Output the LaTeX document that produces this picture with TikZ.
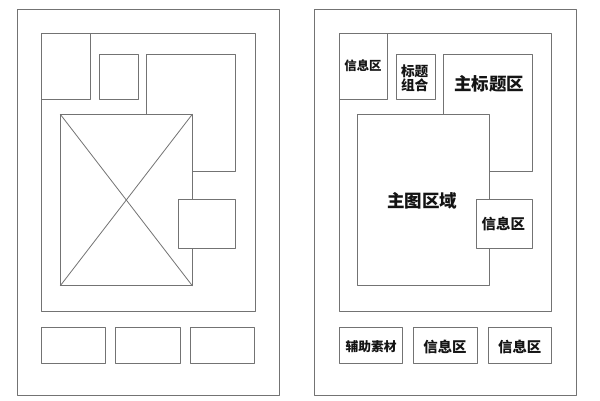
\documentclass[tikz,border=0pt]{standalone}
\usepackage{fontspec}
\newfontfamily\cjk{Noto Sans CJK SC}
\usepackage{tikz}
\definecolor{wwwwww}{rgb}{0.45,0.45,0.45}
\definecolor{qqqqqq}{rgb}{0.08,0.08,0.08}
\begin{document}
\begin{tikzpicture}[line cap=round,line join=round,x=1.0pt,y=-1.0pt]
\useasboundingbox (0,0) rectangle (600,400);
\tikzset{frm/.style={color=wwwwww,line width=0.8pt},
  lbl/.style={color=qqqqqq,inner sep=0pt,align=center,font=\cjk\bfseries}}
% left panel
\draw [frm] (17.3,9.3) rectangle (279.,395.);
\draw [frm] (41.7,33.7) rectangle (255.,311.);
\draw [frm] (41.7,33.7) rectangle (90.3,99.3);
\draw [frm] (99.,54.3) rectangle (138.3,99.3);
\draw [frm] (146.,54.3) rectangle (235.7,171.7);
\draw [frm,fill=white] (60.3,114.3) rectangle (192.3,285.7);
\draw [frm] (60.3,114.3) -- (192.3,285.7);
\draw [frm] (192.3,114.3) -- (60.3,285.7);
\draw [frm,fill=white] (178.3,199.7) rectangle (235.7,248.3);
\draw [frm] (41.7,327.) rectangle (105.7,363.7);
\draw [frm] (115.7,327.) rectangle (180.,363.7);
\draw [frm] (190.,327.) rectangle (254.3,363.7);
% right panel
\draw [frm] (314.3,9.3) rectangle (576.7,395.);
\draw [frm] (339.3,33.7) rectangle (551.7,311.);
\draw [frm] (339.3,33.7) rectangle (387.7,99.3);
\draw [frm] (396.3,54.3) rectangle (435.7,99.3);
\draw [frm] (443.7,54.3) rectangle (532.7,171.7);
\draw [frm,fill=white] (357.7,114.3) rectangle (489.7,285.7);
\draw [frm,fill=white] (476.,199.7) rectangle (532.7,248.3);
\draw [frm] (339.3,327.) rectangle (402.7,363.7);
\draw [frm] (413.7,327.) rectangle (477.,363.7);
\draw [frm] (488.,327.) rectangle (551.3,363.7);
\node [lbl,font=\cjk\bfseries\fontsize{12.4}{14}\selectfont] (info1) at (363.,65.7) {信息区};
\node [lbl,font=\cjk\bfseries\fontsize{13.7}{14}\selectfont] (titlegrp) at (414.7,78.) {标题\\组合};
\node [lbl,font=\cjk\bfseries\fontsize{17.5}{18}\selectfont] (maintitle) at (489.3,84.3) {主标题区};
\node [lbl,font=\cjk\bfseries\fontsize{17.5}{18}\selectfont] (mainimg) at (422.3,200.7) {主图区域};
\node [lbl,font=\cjk\bfseries\fontsize{14.4}{15}\selectfont] (info2) at (503.3,224.) {信息区};
\node [lbl,font=\cjk\bfseries\fontsize{12.75}{14}\selectfont] (aux) at (371.,346.7) {辅助素材};
\node [lbl,font=\cjk\bfseries\fontsize{14.4}{15}\selectfont] (info3) at (445.,346.7) {信息区};
\node [lbl,font=\cjk\bfseries\fontsize{14.4}{15}\selectfont] (info4) at (519.7,346.7) {信息区};
\end{tikzpicture}
\end{document}
